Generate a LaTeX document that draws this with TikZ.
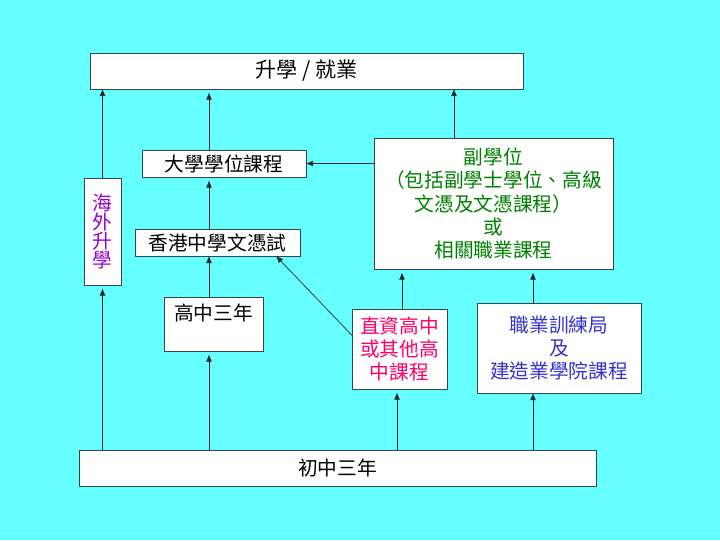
\documentclass[tikz,border=0pt]{standalone}
\usepackage{fontspec}
\newfontfamily\cjk{Noto Sans CJK TC}
\usepackage{tikz}
\usetikzlibrary{positioning}
\usetikzlibrary{arrows,arrows.meta}
\definecolor{sky}{RGB}{102,255,255}
\definecolor{edge}{RGB}{50,70,80}
\definecolor{subgreen}{RGB}{0,128,0}
\definecolor{dssred}{RGB}{255,0,102}
\definecolor{vtcblue}{RGB}{51,51,204}
\definecolor{abroadpurple}{RGB}{153,0,204}
\tikzstyle{line} = [draw, -{Latex[length=5pt, width=4.2pt]}, line width=0.5pt, black!85]
\tikzstyle{gapline} = [line, shorten >=2.5pt]
\tikzstyle{box} = [draw=edge, fill=white, line width=0.6pt, inner sep=0pt, outer sep=0pt, align=center, font=\cjk\fontsize{14}{16.5}\selectfont]

\begin{document}
\begin{tikzpicture}[x=0.025cm, y=-0.025cm]
	\fill[sky] (0, 0) rectangle (720, 540);
	\useasboundingbox (0, 0) rectangle (720, 540);

	% boxes
	\node[box, minimum width=10.825cm, minimum height=0.9cm, font=\cjk\fontsize{15}{18}\selectfont] (jobs) at (306.5, 71) {升學 / 就業};
	\node[box, minimum width=4.1cm, minimum height=0.675cm] (degree) at (224, 163.5) {大學學位課程};
	\node[box, minimum width=4.125cm, minimum height=0.675cm] (dse) at (217.5, 242.5) {香港中學文憑試};
	\node[box, minimum width=0.925cm, minimum height=2.675cm, text=abroadpurple, font=\cjk\fontsize{14}{13.5}\selectfont] (abroad) at (102.5, 231.5) {海\\外\\升\\學};
	\node[box, minimum width=2.475cm, minimum height=1.35cm] (ss) at (213.5, 324) {高中三年\\\mbox{}};
	\node[box, minimum width=5.975cm, minimum height=3.275cm, text=subgreen] (subdeg) at (493.5, 203.5) {副學位\\（包括副學士學位、高級\\文憑及文憑課程）\\或\\相關職業課程};
	\node[box, minimum width=2.375cm, minimum height=2cm, text=dssred] (dss) at (399.5, 349) {直資高中\\或其他高\\中課程};
	\node[box, minimum width=4.1cm, minimum height=2.25cm, text=vtcblue] (vtc) at (559, 348) {職業訓練局\\及\\建造業學院課程};
	\node[box, minimum width=12.925cm, minimum height=0.9cm] (junior) at (337.5, 468) {初中三年};

	% columns for the connectors
	\coordinate (colA) at (209, 0);
	\coordinate (colB) at (402, 0);
	\coordinate (colBlow) at (397, 0);
	\coordinate (colC) at (533, 0);
	\coordinate (colD) at (454, 0);

	% upward paths
	\path[line] (abroad.north) -- (abroad.north |- jobs.south);
	\path[gapline] (degree.north -| colA) -- (jobs.south -| colA);
	\path[line] (subdeg.north -| colD) -- (jobs.south -| colD);
	\path[gapline] (dse.north -| colA) -- (degree.south -| colA);
	\path[line] (subdeg.west |- degree.east) -- (degree.east);
	\path[line] (ss.north -| colA) -- (dse.south -| colA);
	\path[line] (dss.164) -- (dse.-13);
	\path[gapline] (dss.north -| colB) -- (subdeg.south -| colB);
	\path[gapline] (vtc.north -| colC) -- (subdeg.south -| colC);

	% from the bottom box
	\path[gapline] (junior.north -| abroad.south) -- (abroad.south);
	\path[gapline] (junior.north -| colA) -- (ss.south -| colA);
	\path[gapline] (junior.north -| colBlow) -- (dss.south -| colBlow);
	\path[line] (junior.north -| colC) -- (vtc.south -| colC);
\end{tikzpicture}
\end{document}
